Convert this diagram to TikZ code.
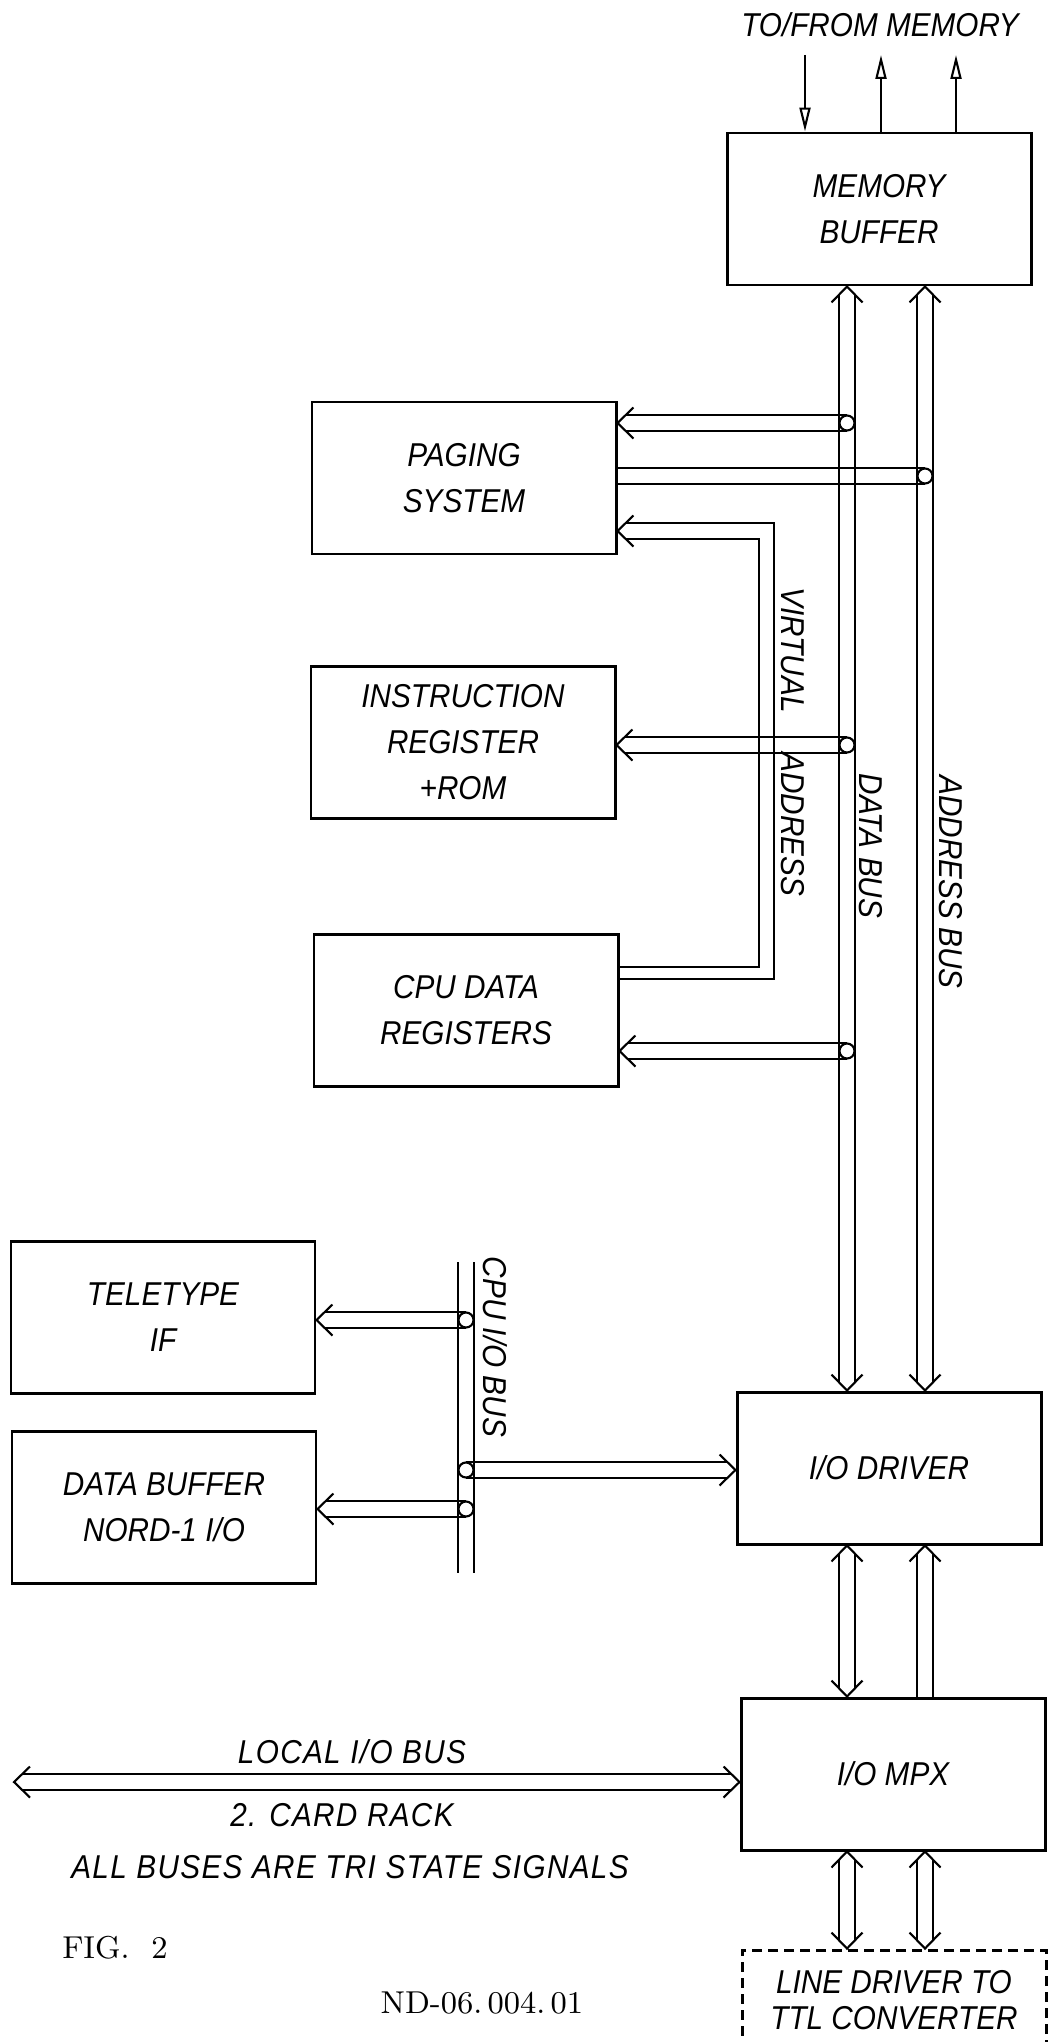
\documentclass[tikz,border=0pt]{standalone}
\usepackage{fontspec}
\usetikzlibrary{arrows.meta}
\newfontfamily\handfont{Liberation Sans}[FakeStretch=0.9]
\newcommand{\hand}{\handfont\itshape\fontsize{9.4pt}{13pt}\selectfont}
\tikzset{
  box/.style={draw,line width=0.85pt,minimum width=30.4mm,minimum height=15.2mm,
    align=center,font=\hand},
  lbl/.style={font=\hand},
  widelbl/.style={font=\hand\addfontfeature{LetterSpace=4}},
  print/.style={font=\fontsize{9pt}{11pt}\selectfont},
  twin/.style={preaction={draw,transform canvas={xshift=-0.8mm}},
    postaction={draw,transform canvas={xshift=0.8mm}}},
  twinh/.style={preaction={draw,transform canvas={yshift=-0.8mm}},
    postaction={draw,transform canvas={yshift=0.8mm}}},
  tap/.style={circle,draw,fill=white,inner sep=0pt,minimum size=1.5mm},
  sig/.style={-{Triangle[open,length=2.4mm,width=1.1mm]}},
  chev/.pic={\draw (-1.6mm,1.55mm) -- (0,0) -- (-1.6mm,-1.55mm);}
}

\begin{document}
\begin{tikzpicture}[x=0.1mm,y=-0.1mm,line width=0.6pt]
  \path[use as bounding box] (0,0) rectangle (1057,2042);
  \clip (0,0) rectangle (1057,2042);

  % blocks
  \node[box] (membuf) at (879,209) {MEMORY\\BUFFER};
  \node[box] (paging) at (464,478) {PAGING\\SYSTEM};
  \node[box] (instr) at (463,742) {INSTRUCTION\\REGISTER\\+ROM};
  \node[box] (cpudata) at (466,1010) {CPU DATA\\REGISTERS};
  \node[box] (teletype) at (163,1317) {TELETYPE\\IF};
  \node[box] (databuf) at (164,1507) {DATA BUFFER\\NORD-1 I/O};
  \node[box] (iodriver) at (889,1468) {I/O DRIVER};
  \node[box] (iompx) at (893,1774) {I/O MPX};
  \node[box,dashed,dash pattern=on 1mm off 0.6mm,minimum height=10mm] (linedrv)
    at (894,2000) {LINE DRIVER TO\\[-1mm]TTL CONVERTER};

  % to/from memory
  \node[lbl] (memlbl) at (880,25) {TO/FROM MEMORY};
  \coordinate (min) at (805,55);
  \coordinate (mout1) at (881,55);
  \coordinate (mout2) at (956,55);
  \draw[sig] (min) -- (min |- membuf.north);
  \draw[sig] (mout1 |- membuf.north) -- (mout1);
  \draw[sig] (mout2 |- membuf.north) -- (mout2);

  % data bus and address bus
  \coordinate (dbus) at (847,0);
  \coordinate (abus) at (925,0);
  \foreach \b in {dbus,abus} {
    \path[twin,shorten <=0.8mm,shorten >=0.8mm] (membuf.south -| \b) -- (iodriver.north -| \b);
    \pic[rotate=90] at (membuf.south -| \b) {chev};
    \pic[rotate=-90] at (iodriver.north -| \b) {chev};
  }

  % I/O driver - MPX - line driver
  \path[twin,shorten <=0.8mm,shorten >=0.8mm] (iodriver.south -| dbus) -- (iompx.north -| dbus);
  \pic[rotate=90] at (iodriver.south -| dbus) {chev};
  \pic[rotate=-90] at (iompx.north -| dbus) {chev};
  \path[twin,shorten <=0.8mm] (iodriver.south -| abus) -- (iompx.north -| abus);
  \pic[rotate=90] at (iodriver.south -| abus) {chev};
  \foreach \b in {dbus,abus} {
    \path[twin,shorten <=0.8mm,shorten >=0.8mm] (iompx.south -| \b) -- (linedrv.north -| \b);
    \pic[rotate=90] at (iompx.south -| \b) {chev};
    \pic[rotate=-90] at (linedrv.north -| \b) {chev};
  }

  % taps on the buses
  \coordinate (tpg) at (847,423);
  \coordinate (tpa) at (925,476);
  \coordinate (tir) at (847,745);
  \coordinate (tcd) at (847,1051);
  \coordinate (ttt) at (466,1320);
  \coordinate (tio) at (466,1470);
  \coordinate (tdb) at (466,1509);

  \foreach \n/\t in {paging/tpg,instr/tir,cpudata/tcd,teletype/ttt,databuf/tdb} {
    \path[twinh,shorten <=0.8mm] (\n.east |- \t) -- (\t);
    \pic[rotate=180] at (\n.east |- \t) {chev};
  }
  \path[twinh] (paging.east |- tpa) -- (tpa);

  % virtual address
  \draw[shorten <=0.8mm] (paging.east |- 0,523) -| (774,979) -- (cpudata.east |- 0,979);
  \draw[shorten <=0.8mm] (paging.east |- 0,539) -| (759,967) -- (cpudata.east |- 0,967);
  \pic[rotate=180] at (paging.east |- 0,531) {chev};

  % CPU I/O bus
  \coordinate (iotop) at (466,1262);
  \coordinate (iobot) at (466,1573);
  \path[twin] (iotop) -- (iobot);
  \path[twinh,shorten >=0.8mm] (tio) -- (iodriver.west |- tio);
  \pic at (iodriver.west |- tio) {chev};

  % local I/O bus
  \coordinate (lbus) at (14,1782);
  \path[twinh,shorten <=0.8mm,shorten >=0.8mm] (lbus) -- (iompx.west |- lbus);
  \pic[rotate=180] at (lbus) {chev};
  \pic at (iompx.west |- lbus) {chev};

  \foreach \t in {tpg,tpa,tir,tcd,ttt,tio,tdb}
    \node[tap] (j-\t) at (\t) {};

  % labels
  \node[lbl,rotate=-90] (vlbl) at (793,742) {VIRTUAL\hspace{4mm}ADDRESS};
  \node[lbl,rotate=-90] (dlbl) at (871,846) {DATA BUS};
  \node[lbl,rotate=-90] (albl) at (951,882) {ADDRESS BUS};
  \node[lbl,rotate=-90] (clbl) at (495,1347) {CPU I/O BUS};
  \node[widelbl] (loclbl) at (352,1752) {LOCAL I/O BUS};
  \node[widelbl] (racklbl) at (342,1815) {2. CARD RACK};
  \node[widelbl] (trilbl) at (350,1867) {ALL BUSES ARE TRI STATE SIGNALS};
  \node[print] (fig) at (115,1948) {FIG.~~2};
  \node[print] (docno) at (482,2003) {ND-06.\,004.\,01};
\end{tikzpicture}
\end{document}
